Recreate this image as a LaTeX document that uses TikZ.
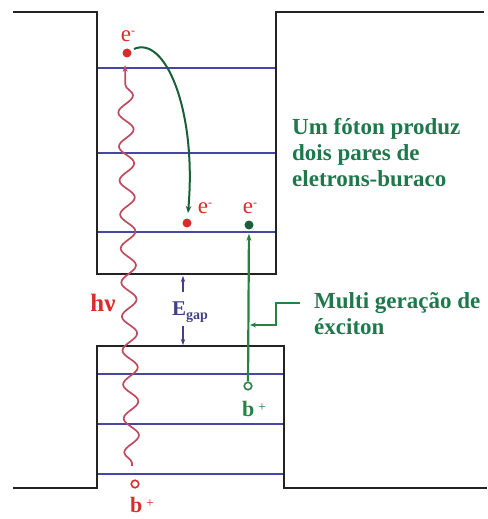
\documentclass[tikz,border=0pt]{standalone}
\usepackage{fontspec}
\setmainfont{Liberation Serif}
\usetikzlibrary{decorations.pathmorphing,arrows.meta}
\definecolor{boxblack}{RGB}{35,35,35}
\definecolor{levelblue}{RGB}{70,70,165}
\definecolor{redtxt}{RGB}{215,45,45}
\definecolor{wavered}{RGB}{190,75,95}
\definecolor{dkgreen}{RGB}{25,95,55}
\definecolor{lgreen}{RGB}{40,128,68}
\definecolor{txtgreen}{RGB}{30,120,75}
\definecolor{egblue}{RGB}{65,65,135}
\newcommand\elab{e\raisebox{7pt}{\fontsize{12}{12}\selectfont -}}
\begin{document}
\begin{tikzpicture}[x=1pt,y=-1pt,
  boxline/.style={line width=2.7pt, draw=boxblack, line join=miter},
  level/.style={line width=2.2pt, draw=levelblue},
  dotnode/.style={circle, inner sep=0pt, minimum size=9pt},
  holenode/.style={circle, draw, inner sep=0pt, minimum size=7.5pt, line width=1.6pt},
  elbl/.style={text=redtxt, font=\fontsize{23}{23}\selectfont, inner sep=0pt},
  bigtxt/.style={text=txtgreen, font=\fontsize{23}{26}\selectfont\bfseries, align=left, inner sep=0pt, anchor=west},
  gapar/.style={draw=egblue, line width=1.3pt, -{Stealth[length=6pt,width=4.5pt]}}
]
\useasboundingbox (0,0) rectangle (487,519);
% conduction band well
\draw[boxline] (13,12) -- (97,12) -- (97,274) -- (276,274) -- (276,12) -- (484,12);
% valence band well
\draw[boxline] (13,488) -- (97,488) -- (97,346) -- (284,346) -- (284,488) -- (487,488);
% levels
\foreach \yy in {68,153,232} \draw[level] (98,\yy) -- (275,\yy);
\foreach \yy in {374,424,474} \draw[level] (98,\yy) -- (283,\yy);
% photon
\coordinate (wavestart) at (132,466);
\coordinate (waveend) at (125,65);
\draw[wavered, line width=1.7pt, decorate,
  decoration={snake, amplitude=7.5pt, segment length=34pt, pre length=3pt, post length=6pt},
  -{Stealth[length=7pt,width=5pt]}] (wavestart) -- (waveend);
\node[text=redtxt, font=\fontsize{25}{25}\selectfont\bfseries, inner sep=0pt] (hnu) at (103,303) {hν};
% electrons
\node[dotnode, fill=redtxt] (e1) at (127,53) {};
\node[elbl] (e1l) at (128,36) {\elab};
\node[dotnode, fill=redtxt] (e2) at (187,223) {};
\node[elbl] (e2l) at (205,208) {\elab};
\node[dotnode, fill=dkgreen] (e3) at (249,225) {};
\node[elbl] (e3l) at (250,208) {\elab};
% holes
\node[holenode, draw=lgreen] (h3) at (248,386) {};
\node[text=lgreen, inner sep=0pt] (h3l) at (254,409) {\fontsize{22}{22}\selectfont\bfseries b\,\raisebox{5pt}{\fontsize{14}{14}\selectfont\mdseries +}};
\node[holenode, draw=redtxt] (h1) at (135,484) {};
\node[text=redtxt, inner sep=0pt] (h1l) at (142,505) {\fontsize{22}{22}\selectfont\bfseries b\,\raisebox{5pt}{\fontsize{14}{14}\selectfont\mdseries +}};
% electron relaxation arc
\coordinate (arcstart) at (134,49);
\coordinate (arcend) at (188,213);
\draw[dkgreen, line width=2pt, -{Stealth[length=7pt,width=5.5pt]}] (arcstart) .. controls (165,35) and (197,110) .. (arcend);
% second exciton
\draw[lgreen, line width=2.2pt, -{Stealth[length=7pt,width=5pt, open]}, shorten >=4pt] (h3) -- (e3);
% gap
\node[text=egblue, inner sep=0pt] (eg) at (190,312) {\fontsize{21}{21}\selectfont\bfseries E\raisebox{-4pt}{\fontsize{14}{14}\selectfont gap}};
\coordinate (gtop) at (183,276);
\coordinate (gbot) at (183,345);
\coordinate (gtopst) at (183,292);
\coordinate (gbotst) at (183,326);
\draw[gapar] (gtopst) -- (gtop);
\draw[gapar] (gbotst) -- (gbot);
% labels
\node[bigtxt] (t1) at (292,153) {Um fóton produz\\dois pares de\\eletrons-buraco};
\node[bigtxt] (t2) at (314,314) {Multi geração de\\éxciton};
\coordinate (mg) at (300,303);
\coordinate (mgend) at (250,325);
\draw[lgreen, line width=2.2pt, -{Stealth[length=6pt,width=5pt, open]}] (mg) -- (276,303) -- (276,325) -- (mgend);
\end{tikzpicture}
\end{document}
